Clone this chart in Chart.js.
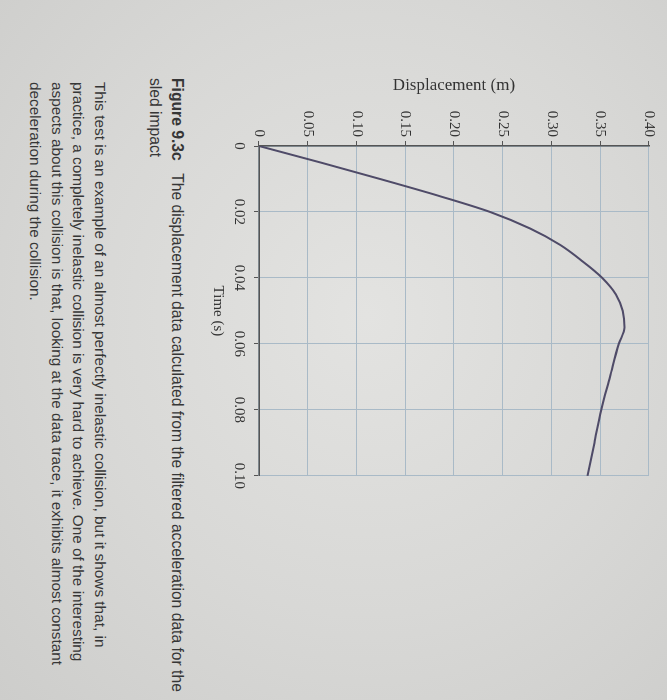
<!DOCTYPE html>
<html>
<head>
<meta charset="utf-8">
<script src="https://cdn.jsdelivr.net/npm/chart.js@4.4.1/dist/chart.umd.min.js"></script>
<style>
  html, body { margin: 0; padding: 0; }
  body {
    width: 667px; height: 700px; overflow: hidden; position: relative;
    background: radial-gradient(ellipse at 55% 45%, #e3e3e1 0%, #d8d8d6 55%, #cdcdcb 100%);
  }
  /* the photo shows the page turned a quarter turn clockwise */
  #page {
    position: absolute; left: 0; top: 0;
    width: 700px; height: 667px;
    transform-origin: 0 0;
    transform: translate(667px, 0) rotate(90deg);
  }
  #plot { position: absolute; left: 75px; top: 0; width: 420px; height: 460px; }
  .line {
    position: absolute; white-space: nowrap;
    font-family: "Liberation Sans", Arial, sans-serif;
    font-size: 15px; line-height: 18px; color: #363636;
  }
  .line b { margin-right: 0.8em; }
</style>
</head>
<body>
<div id="page">
  <div id="plot"><canvas id="dispChart"></canvas></div>
  <div class="line" id="cap1" data-end="692" style="left:78px; top:481px;"><b>Figure 9.3c</b>The displacement data calculated from the filtered acceleration data for the</div>
  <div class="line" id="cap2" style="left:78px; top:503px;">sled impact</div>
  <div class="line" data-end="648" style="left:82px; top:558px;">This test is an example of an almost perfectly inelastic collision, but it shows that, in</div>
  <div class="line" data-end="662" style="left:82px; top:580px;">practice, a completely inelastic collision is very hard to achieve. One of the interesting</div>
  <div class="line" id="para3" data-end="665" style="left:82px; top:601px;">aspects about this collision is that, looking at the data trace, it exhibits almost constant</div>
  <div class="line" id="para4" style="left:82px; top:623px;">deceleration during the collision.</div>
</div>
<script>
const times = [0, 0.005, 0.01, 0.015, 0.02, 0.025, 0.03, 0.035, 0.04, 0.045, 0.05, 0.055, 0.06, 0.07, 0.08, 0.09, 0.10];
const displacement = [0, 0.063, 0.124, 0.183, 0.237, 0.278, 0.309, 0.332, 0.352, 0.366, 0.373, 0.375, 0.369, 0.360, 0.351, 0.344, 0.337];
const timeTicks = [0, 0.02, 0.04, 0.06, 0.08, 0.10];
const dispTicks = [0, 0.05, 0.10, 0.15, 0.20, 0.25, 0.30, 0.35, 0.40];

// text lines are a bit larger in the photo; size each one to its measured end
document.querySelectorAll(".line[data-end]").forEach(el => {
    const target = +el.dataset.end - parseFloat(el.style.left);
    el.style.fontSize = (15 * target / el.scrollWidth).toFixed(2) + "px";
});
document.getElementById("cap2").style.fontSize = document.getElementById("cap1").style.fontSize;
document.getElementById("para4").style.fontSize = document.getElementById("para3").style.fontSize;

const fmt = v => (v === 0 ? "0" : v.toFixed(2));
const serif = "'Liberation Serif', 'Times New Roman', serif";

const canvas = document.getElementById("dispChart");
const ctx = canvas.getContext("2d");

const dispChart = new Chart(ctx, {
    type: "line",
    data: {
        datasets: [
            {
                data: times.map((t, i) => ({ x: t, y: displacement[i] })),
                borderColor: "#4f4b68",
                borderWidth: 2,
                pointRadius: 0,
                cubicInterpolationMode: "monotone",
                fill: false,
            },
        ],
    },
    options: {
        responsive: true,
        maintainAspectRatio: false,
        animation: false,
        layout: { padding: { top: 18, right: 15, bottom: 0, left: 0 } },
        plugins: { legend: { display: false }, tooltip: { enabled: false } },
        scales: {
            x: {
                type: "linear",
                min: 0,
                max: 0.1,
                afterBuildTicks: s => { s.ticks = timeTicks.map(v => ({ value: v })); },
                afterFit: s => { s.height = 52; },
                grid: { color: "#a9bac7", lineWidth: 1, tickLength: 5, tickColor: "#555" },
                border: { color: "#555", width: 1.5 },
                ticks: {
                    padding: 6,
                    maxRotation: 0,
                    color: "#333",
                    font: { family: serif, size: 15 },
                    callback: v => fmt(v),
                },
                title: {
                    display: true,
                    text: "Time (s)",
                    color: "#333",
                    font: { family: serif, size: 15 },
                    padding: { top: 0, bottom: 2 },
                },
            },
            y: {
                min: 0,
                max: 0.4,
                afterBuildTicks: s => { s.ticks = dispTicks.map(v => ({ value: v })); },
                afterFit: s => { s.width = 71; },
                grid: { color: "#a9bac7", lineWidth: 1, tickLength: 5, tickColor: "#555" },
                border: { color: "#555", width: 1.5 },
                ticks: {
                    padding: 4,
                    color: "#333",
                    font: { family: serif, size: 15 },
                    callback: v => fmt(v),
                },
                title: {
                    display: true,
                    text: "Displacement (m)",
                    color: "#333",
                    font: { family: serif, size: 17 },
                    padding: { top: 0, bottom: 0 },
                },
            },
        },
    },
});
</script>
</body>
</html>
